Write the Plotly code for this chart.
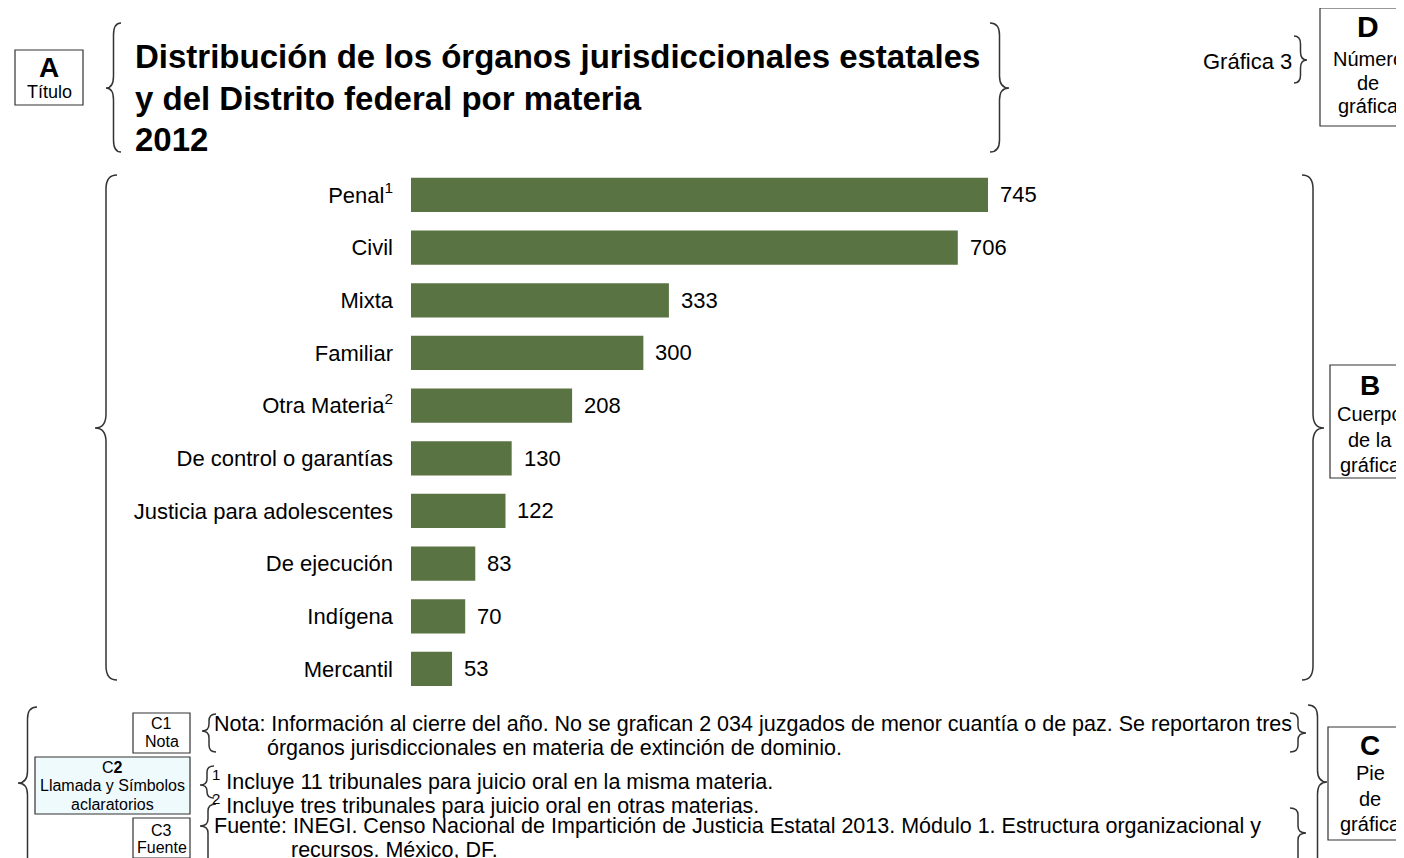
import plotly.graph_objects as go

# Page has an 8px body margin: the figure is sized and offset for it.
OX, OY = 8, 8
W, H = 1396, 850

categories = ["Penal", "Civil", "Mixta", "Familiar", "Otra Materia", "De control o garantías",
              "Justicia para adolescentes", "De ejecución", "Indígena", "Mercantil"]
tick_labels = ["Penal<sup>1</sup>", "Civil", "Mixta", "Familiar", "Otra Materia<sup>2</sup>",
               "De control o garantías", "Justicia para adolescentes", "De ejecución",
               "Indígena", "Mercantil"]
values = [745, 706, 333, 300, 208, 130, 122, 83, 70, 53]

title_lines = ["Distribución de los órganos jurisdiccionales estatales",
               "y del Distrito federal por materia", "2012"]

FONT = "Liberation Sans, Arial, sans-serif"
BAR = "#5a7342"
INK = "#000000"
LINE = "#333333"


def px(x):
    return (x - OX) / W


def py(y):
    return 1 - (y - OY) / H


fig = go.Figure()
fig.add_trace(go.Bar(
    x=values, y=categories, orientation="h",
    marker=dict(color=BAR, line=dict(width=0)),
    width=0.65, hoverinfo="x+y",
))

x0, scale = 411, 577 / 745
xmax = 1000
top, slot = 195 - 26.35, (669 - 195) / 9
fig.update_layout(
    width=W, height=H,
    margin=dict(l=0, r=0, t=0, b=0),
    paper_bgcolor="white", plot_bgcolor="white",
    showlegend=False,
    font=dict(family=FONT, color=INK, size=22),
    xaxis=dict(domain=[px(x0), px(x0 + xmax * scale)], range=[0, xmax],
               visible=False, fixedrange=True),
    yaxis=dict(domain=[py(top + slot * 10), py(top)],
               categoryorder="array", categoryarray=categories,
               autorange=False, range=[9.5, -0.5],
               tickmode="array", tickvals=categories, ticktext=tick_labels,
               showline=False, showgrid=False, zeroline=False, ticks="",
               ticklabelstandoff=17,
               tickfont=dict(family=FONT, size=22, color=INK), fixedrange=True),
)

annotations = []
for c, v in zip(categories, values):
    annotations.append(dict(x=v, y=c, xref="x", yref="y", text=str(v), showarrow=False,
                            xanchor="left", yanchor="middle", xshift=10,
                            font=dict(family=FONT, size=22, color=INK)))


def txt(x, y, t, size, anchor="left", bold=False):
    if bold:
        t = "<b>" + t + "</b>"
    annotations.append(dict(x=px(x), y=py(y), xref="paper", yref="paper", text=t,
                            showarrow=False, xanchor=anchor, yanchor="middle",
                            font=dict(family=FONT, size=size, color=INK)))


# Title
for i, line in enumerate(title_lines):
    txt(133, 57 + 41.5 * i, line, 33, bold=True)

txt(1294, 61, "Gráfica 3", 22, anchor="right")

# Boxes
shapes = []


def box(x1, y1, x2, y2, fill="white"):
    shapes.append(dict(type="rect", xref="paper", yref="paper",
                       x0=px(x1), x1=px(x2), y0=py(y2), y1=py(y1),
                       line=dict(color=LINE, width=1.2), fillcolor=fill, layer="below"))


box(15, 50, 83, 105)
txt(49, 68, "A", 28, anchor="center", bold=True)
txt(49, 92, "Título", 18, anchor="center")

box(1320, 8, 1420, 126)
txt(1368, 27, "D", 30, anchor="center", bold=True)
txt(1368, 59, "Número", 20, anchor="center")
txt(1368, 83, "de", 20, anchor="center")
txt(1368, 106, "gráfica", 20, anchor="center")

box(1330, 365, 1420, 478)
txt(1370, 385, "B", 28, anchor="center", bold=True)
txt(1370, 414, "Cuerpo", 20, anchor="center")
txt(1370, 440, "de la", 20, anchor="center")
txt(1370, 465, "gráfica", 20, anchor="center")

box(1328, 727, 1420, 840)
txt(1370, 745, "C", 28, anchor="center", bold=True)
txt(1370, 773, "Pie", 20, anchor="center")
txt(1370, 799, "de", 20, anchor="center")
txt(1370, 824, "gráfica", 20, anchor="center")

box(133, 713, 190, 753)
txt(161.5, 723, "C1", 16, anchor="center")
txt(161.5, 741, "Nota", 16, anchor="center")

box(35, 757, 190, 814, fill="#effafd")
txt(112.5, 767, "C<b>2</b>", 16, anchor="center")
txt(112.5, 785, "Llamada y Símbolos", 16, anchor="center")
txt(112.5, 804, "aclaratorios", 16, anchor="center")

box(133, 818, 190, 858)
txt(161.5, 830, "C3", 16, anchor="center")
txt(161.5, 847, "Fuente", 16, anchor="center")

# Footer text
FS = 21.5
txt(212, 724, "Nota: Información al cierre del año. No se grafican 2 034 juzgados de menor cuantía o de paz. Se reportaron tres", FS)
txt(265, 748, "órganos jurisdiccionales en materia de extinción de dominio.", FS)
txt(210, 780, "<sup>1</sup> Incluye 11 tribunales para juicio oral en la misma materia.", FS)
txt(210, 804, "<sup>2</sup> Incluye tres tribunales para juicio oral en otras materias.", FS)
txt(212, 826, "Fuente: INEGI. Censo Nacional de Impartición de Justicia Estatal 2013. Módulo 1. Estructura organizacional y", FS)
txt(289, 850, "recursos. México, DF.", FS)


# Braces
def brace(x_tip, x_end, y_top, y_bot, y_tip, r=None):
    if r is None:
        r = min(12, (y_bot - y_top) / 6)
    xm = (x_tip + x_end) / 2
    pts = [
        f"M{px(x_end)},{py(y_top)}",
        f"Q{px(xm)},{py(y_top)} {px(xm)},{py(y_top + r)}",
        f"L{px(xm)},{py(y_tip - r)}",
        f"Q{px(xm)},{py(y_tip)} {px(x_tip)},{py(y_tip)}",
        f"Q{px(xm)},{py(y_tip)} {px(xm)},{py(y_tip + r)}",
        f"L{px(xm)},{py(y_bot - r)}",
        f"Q{px(xm)},{py(y_bot)} {px(x_end)},{py(y_bot)}",
    ]
    shapes.append(dict(type="path", xref="paper", yref="paper", path=" ".join(pts),
                       line=dict(color=LINE, width=1.5)))


brace(106, 121, 23, 152, 88)          # title left
brace(1009, 990, 23, 152, 88)         # title right
brace(1307, 1294, 36, 83, 60, r=8)    # Gráfica 3
brace(95, 117, 175, 680, 428, r=14)   # body left
brace(1324, 1302, 175, 680, 428, r=14)  # body right
brace(18, 37, 707, 870, 783, r=12)    # footer left
brace(202, 216, 714, 752, 731, r=7)   # nota left
brace(1306, 1290, 713, 752, 733, r=7)  # nota right
brace(200, 214, 766, 798, 785, r=6)   # llamadas
brace(200, 216, 804, 865, 826, r=7)   # fuente left
brace(1306, 1290, 808, 868, 833, r=7)  # fuente right
brace(1327, 1308, 705, 870, 782, r=12)  # footer right

fig.update_layout(annotations=annotations, shapes=shapes)
fig.write_html("out.html")
